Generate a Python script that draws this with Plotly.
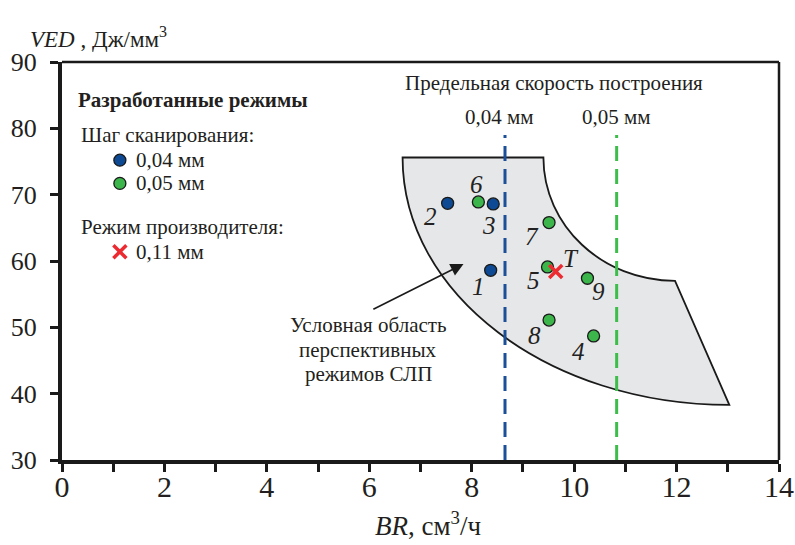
import plotly.graph_objects as go

# ---------------- data ----------------
BLUE_X = [8.37, 7.53, 8.42]
BLUE_Y = [58.6, 68.7, 68.6]
BLUE_LBL = ["1", "2", "3"]

GREEN_X = [10.38, 9.48, 8.13, 9.51, 9.51, 10.26]
GREEN_Y = [48.7, 59.1, 68.9, 65.8, 51.1, 57.4]
GREEN_LBL = ["4", "5", "6", "7", "8", "9"]

MAKER_X = [9.64]
MAKER_Y = [58.4]
MAKER_LBL = ["T"]

# limit build-rate lines (scan step 0.04 / 0.05 mm)
LIMIT_X = [8.65, 10.83]
LIMIT_NAMES = ["0,04 мм", "0,05 мм"]
LIMIT_Y = [30, 79]

# region corners (annular sector): top-left, top-right, inner-arc end, bottom-right
REGION_X = [6.65, 9.40, 11.97, 13.03]
REGION_Y = [75.6, 75.6, 57.0, 38.3]

X_TICKS = [0, 2, 4, 6, 8, 10, 12, 14]
Y_TICKS = [30, 40, 50, 60, 70, 80, 90]

# label positions for point numbers
LBL_POS = {
    "1": (8.13, 56.1), "2": (7.19, 66.7), "3": (8.33, 65.4),
    "4": (10.08, 46.3), "5": (9.21, 57.1), "6": (8.10, 71.5),
    "7": (9.17, 63.7), "8": (9.22, 48.8), "9": (10.47, 55.4),
    "T": (9.94, 60.4),
}

C_BLUE = "#0d4a93"
C_GREEN = "#3cb54a"
C_RED = "#ec2a30"
C_BLUE_L = "#1b4f98"
C_GREEN_L = "#3dbd4a"
FONT = "Liberation Serif"

fig = go.Figure()

# ---- region shape (cubic beziers approximating quarter ellipses) ----
k = 0.5523
tlx, trx, irx, brx = REGION_X
tly, try_, iry, bry = REGION_Y
path = (
    f"M {tlx},{tly} L {trx},{try_} "
    f"C {trx},{try_ - k * (try_ - iry)} {irx - k * (irx - trx)},{iry} {irx},{iry} "
    f"L {brx},{bry} "
    f"C {brx - k * (brx - tlx)},{bry} {tlx},{tly - k * (tly - bry)} {tlx},{tly} Z"
)
fig.add_shape(type="path", path=path, xref="x", yref="y",
              fillcolor="#e6e7e8", line=dict(color="#1a1a1a", width=1.8),
              layer="below")

# ---- dashed limit lines ----
for xv, col in zip(LIMIT_X, [C_BLUE_L, C_GREEN_L]):
    fig.add_trace(go.Scatter(x=[xv, xv], y=LIMIT_Y, mode="lines",
                             line=dict(color=col, width=3, dash="15px,8px"),
                             hoverinfo="skip", showlegend=False, cliponaxis=False))

# ---- points ----
fig.add_trace(go.Scatter(x=BLUE_X, y=BLUE_Y, mode="markers",
                         marker=dict(size=12, color=C_BLUE, line=dict(color="#1a1a1a", width=1.3)),
                         showlegend=False))
fig.add_trace(go.Scatter(x=GREEN_X, y=GREEN_Y, mode="markers",
                         marker=dict(size=12, color=C_GREEN, line=dict(color="#1a1a1a", width=1.3)),
                         showlegend=False))
fig.add_trace(go.Scatter(x=MAKER_X, y=MAKER_Y, mode="markers",
                         marker=dict(size=13, symbol="x-thin", line=dict(color=C_RED, width=3.5)),
                         showlegend=False))

# point labels
for lbl in BLUE_LBL + GREEN_LBL + MAKER_LBL:
    lx, ly = LBL_POS[lbl]
    fig.add_annotation(x=lx, y=ly, text=f"<i>{lbl}</i>", showarrow=False,
                       font=dict(family=FONT, size=25, color="#222"))

# ---- manual legend ----
LEG_X = 1.13
fig.add_trace(go.Scatter(x=[LEG_X], y=[75.2], mode="markers",
                         marker=dict(size=12, color=C_BLUE, line=dict(color="#1a1a1a", width=1.3)),
                         showlegend=False, cliponaxis=False))
fig.add_trace(go.Scatter(x=[LEG_X], y=[71.7], mode="markers",
                         marker=dict(size=12, color=C_GREEN, line=dict(color="#1a1a1a", width=1.3)),
                         showlegend=False, cliponaxis=False))
fig.add_trace(go.Scatter(x=[LEG_X], y=[61.4], mode="markers",
                         marker=dict(size=13, symbol="x-thin", line=dict(color=C_RED, width=3.5)),
                         showlegend=False, cliponaxis=False))

def txt(x, y, s, size=21, anchor="left", bold=False, color="#231f20"):
    fig.add_annotation(x=x, y=y, text=(f"<b>{s}</b>" if bold else s), showarrow=False,
                       xanchor=anchor, yanchor="middle",
                       font=dict(family=FONT, size=size, color=color))

txt(0.27, 84.3, "Разработанные режимы", size=21, bold=True)
txt(0.33, 79.0, "Шаг сканирования:")
txt(1.40, 75.2, "0,04 мм")
txt(1.40, 71.7, "0,05 мм")
txt(0.33, 65.1, "Режим производителя:")
txt(1.40, 61.4, "0,11 мм")

# top labels
txt(9.60, 86.8, "Предельная скорость построения", anchor="center")
txt(8.55, 81.7, LIMIT_NAMES[0], anchor="center")
txt(10.83, 81.7, LIMIT_NAMES[1], anchor="center")

# region caption
txt(5.98, 50.3, "Условная область", anchor="center")
txt(5.98, 46.6, "перспективных", anchor="center")
txt(5.98, 43.0, "режимов СЛП", anchor="center")

# arrow
fig.add_annotation(x=7.84, y=59.55, ax=6.05, ay=52.6, axref="x", ayref="y",
                   xref="x", yref="y", text="", showarrow=True,
                   arrowhead=2, arrowsize=1.6, arrowwidth=1.6, arrowcolor="#1a1a1a")

# axis titles (paper coordinates; plot area spans x 62..779 px, y 62..460 px)
fig.add_annotation(xref="paper", yref="paper", x=-0.047, y=1.062, xanchor="left", yanchor="middle",
                   text="<i>VED</i> , Дж/мм<sup>3</sup>", showarrow=False,
                   font=dict(family=FONT, size=23, color="#231f20"))
fig.add_annotation(xref="paper", yref="paper", x=0.51, y=-0.209,
                   xanchor="center", yanchor="bottom",
                   text="<i>BR</i>, см<sup>3</sup>/ч", showarrow=False,
                   font=dict(family=FONT, size=27, color="#231f20"))

# top / right border
fig.add_shape(type="line", xref="paper", yref="paper", x0=0, x1=1, y0=1, y1=1,
              line=dict(color="#1a1a1a", width=2.5))
fig.add_shape(type="line", xref="paper", yref="paper", x0=1, x1=1, y0=0, y1=1,
              line=dict(color="#1a1a1a", width=2.5))

fig.update_layout(
    width=795, height=545,
    margin=dict(l=62, r=16, t=62, b=85, autoexpand=False),
    paper_bgcolor="white", plot_bgcolor="white",
    showlegend=False,
    xaxis=dict(range=[0, 14], tickvals=X_TICKS, ticks="outside", ticklen=8, tickwidth=3,
               tickcolor="#1a1a1a", showline=True, linewidth=4, linecolor="#1a1a1a",
               showgrid=False, zeroline=False, automargin=False, ticklabelstandoff=-11,
               minor=dict(dtick=1, ticks="outside", ticklen=8, tickwidth=3, tickcolor="#1a1a1a",
                          showgrid=False),
               tickfont=dict(family=FONT, size=30, color="#231f20")),
    yaxis=dict(range=[30, 90], tickvals=Y_TICKS, ticks="outside", ticklen=8, tickwidth=3,
               tickcolor="#1a1a1a", showline=True, linewidth=4, linecolor="#1a1a1a",
               showgrid=False, zeroline=False, automargin=False, ticklabelstandoff=8,
               tickfont=dict(family=FONT, size=26, color="#231f20")),
)

fig.write_html("out.html")
